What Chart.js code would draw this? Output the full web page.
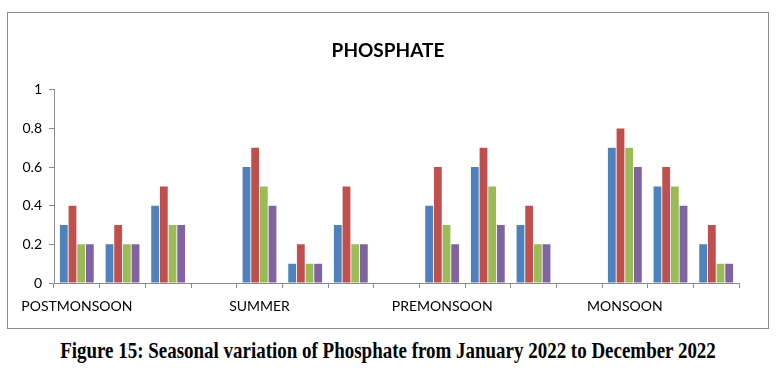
<!DOCTYPE html>
<html>
<head>
<meta charset="utf-8">
<script src="https://cdn.jsdelivr.net/npm/chart.js@4/dist/chart.umd.min.js"></script>
<style>
  body { margin: 0; background: #fff; width: 776px; height: 377px; overflow: hidden; position: relative; }
  #box { position: absolute; left: 7px; top: 12px; width: 760px; height: 315px; border: 1px solid #8c8c8c; }
  #caption { position: absolute; left: -112px; top: 337px; width: 1000px; text-align: center; line-height: 28px;
    font: bold 24px "Liberation Serif", serif; color: #000; white-space: nowrap;
    transform: scaleX(0.79); transform-origin: 500px 0; }
</style>
</head>
<body>
<div id="box"><canvas id="chart" width="760" height="315"></canvas></div>
<div id="caption">Figure 15: Seasonal variation of Phosphate from January 2022 to December 2022</div>
<script>
// 15 slots: 3 sampling sites per season, one empty slot between seasons
const categories = ['POSTMONSOON', '', '', '', 'SUMMER', '', '', '', 'PREMONSOON', '', '', '', 'MONSOON', '', ''];
const series1 = [0.3, 0.2, 0.4, null, 0.6, 0.1, 0.3, null, 0.4, 0.6, 0.3, null, 0.7, 0.5, 0.2];
const series2 = [0.4, 0.3, 0.5, null, 0.7, 0.2, 0.5, null, 0.6, 0.7, 0.4, null, 0.8, 0.6, 0.3];
const series3 = [0.2, 0.2, 0.3, null, 0.5, 0.1, 0.2, null, 0.3, 0.5, 0.2, null, 0.7, 0.5, 0.1];
const series4 = [0.2, 0.2, 0.3, null, 0.4, 0.1, 0.2, null, 0.2, 0.3, 0.2, null, 0.6, 0.4, 0.1];
const yTicks = [0, 0.2, 0.4, 0.6, 0.8, 1];

const colors = ['#4f81bd', '#c0504d', '#9bbb59', '#8064a2'];
const axisFont = { family: 'Lato', size: 14 };

new Chart(document.getElementById('chart'), {
  type: 'bar',
  data: {
    labels: categories,
    datasets: [series1, series2, series3, series4].map((d, i) => ({
      label: 'S' + (i + 1),
      data: d,
      backgroundColor: colors[i],
      categoryPercentage: 0.76,
      barPercentage: 0.9
    }))
  },
  options: {
    responsive: false,
    animation: false,
    layout: { padding: 0 },
    plugins: {
      legend: { display: false },
      tooltip: { enabled: false },
      title: {
        display: true,
        text: 'PHOSPHATE',
        color: '#000',
        font: { family: 'Lato', size: 19, weight: 'bold' },
        padding: { top: 26, bottom: 28 }
      }
    },
    scales: {
      x: {
        grid: { offset: true, drawOnChartArea: false, drawTicks: true, tickLength: 5, color: '#8c8c8c' },
        border: { color: '#8c8c8c' },
        ticks: { color: '#000', font: axisFont, autoSkip: false, maxRotation: 0, minRotation: 0, padding: 10 },
        afterFit: s => { s.height = 45; }
      },
      y: {
        min: 0,
        max: 1,
        afterBuildTicks: s => { s.ticks = yTicks.map(v => ({ value: v })); },
        grid: { drawOnChartArea: false, drawTicks: true, tickLength: 5, color: '#8c8c8c' },
        border: { color: '#8c8c8c' },
        ticks: { color: '#000', font: axisFont, padding: 7, callback: v => String(v) },
        afterFit: s => { s.width = 46; }
      },
      // empty right-hand spacer so the plot ends where the original does
      spacer: {
        position: 'right',
        display: true,
        grid: { display: false },
        border: { display: false },
        ticks: { display: false },
        afterFit: s => { s.width = 29; }
      }
    }
  }
});
</script>
</body>
</html>
